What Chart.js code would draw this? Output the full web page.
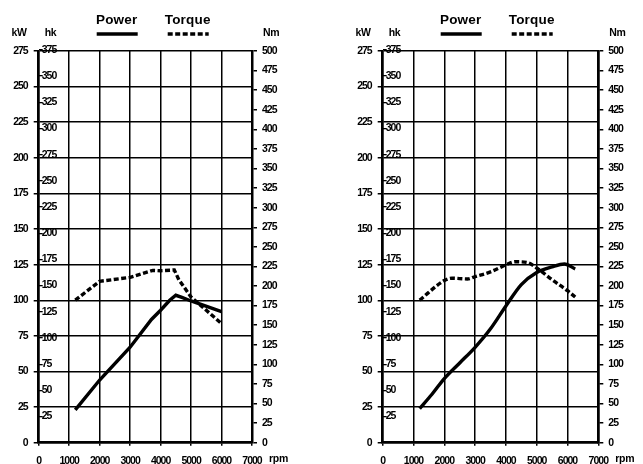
<!DOCTYPE html>
<html>
<head>
<meta charset="utf-8">
<script src="https://cdn.jsdelivr.net/npm/chart.js@4.4.0/dist/chart.umd.min.js"></script>
<style>
  html, body { margin: 0; padding: 0; background: #fff; }
  body { width: 643px; height: 464px; position: relative; overflow: hidden; }
  .panel { position: absolute; top: 0; }
  canvas { display: block; }
</style>
</head>
<body>
<div class="panel" style="left:0"><canvas id="left" width="322" height="464"></canvas></div>
<div class="panel" style="left:344px"><canvas id="right" width="299" height="464"></canvas></div>
<script>
// axis ticks
const rpmTicks = [0, 1000, 2000, 3000, 4000, 5000, 6000, 7000];
const kwTicks = [0, 25, 50, 75, 100, 125, 150, 175, 200, 225, 250, 275];
const hkTicks = [25, 50, 75, 100, 125, 150, 175, 200, 225, 250, 275, 300, 325, 350, 375];
const nmTicks = [0, 25, 50, 75, 100, 125, 150, 175, 200, 225, 250, 275, 300, 325, 350, 375, 400, 425, 450, 475, 500];
const HK_PER_KW = 1.36;

// left engine
const rpmPowerA = [1200, 2000, 3000, 3700, 4000, 4300, 4500, 4700, 5000, 6000];
const powerA = [23, 44, 67, 86.5, 93, 100, 103.5, 102, 99.5, 92];
const rpmTorqueA = [1200, 2000, 3000, 3750, 4000, 4450, 4600, 5000, 5500, 6000];
const torqueA = [182, 206, 211, 220, 219.5, 220.5, 208, 186, 169, 152];

// right engine
const rpmPowerB = [1200, 1600, 2000, 2500, 3000, 3500, 4000, 4500, 5000, 5500, 5900, 6250];
const powerB = [24, 34, 45, 56, 67, 80, 96, 111, 119.5, 123.5, 125.5, 122];
const rpmTorqueB = [1200, 2000, 2250, 2750, 3000, 3500, 4000, 4300, 4700, 5000, 5500, 6000, 6250];
const torqueB = [182, 207, 210, 209, 212, 218, 227, 231, 230, 223, 208, 194, 186];

const FONT = '"Liberation Sans", Arial, sans-serif';

function axisFont(size) {
    return { family: FONT, size: size, weight: 'bold' };
}

function useTicks(list) {
    return (scale) => { scale.ticks = list.map((v) => ({ value: v })); };
}

const labelsPlugin = {
    id: 'engineLabels',
    beforeDraw(chart) {
        // squeeze the digits a bit, the original uses a condensed face
        chart.ctx.letterSpacing = '-1px';
    },
    afterDraw(chart) {
        const ctx = chart.ctx;
        const a = chart.chartArea;
        ctx.save();
        ctx.fillStyle = '#000';
        ctx.strokeStyle = '#000';
        ctx.textBaseline = 'middle';
        ctx.font = 'bold 10.5px ' + FONT;
        ctx.letterSpacing = '-0.3px';
        ctx.textAlign = 'right';
        ctx.fillText('kW', a.left - 12, 33);
        ctx.textAlign = 'left';
        ctx.fillText('hk', a.left + 6, 33);
        ctx.fillText('Nm', a.right + 11, 33);
        ctx.fillText('rpm', a.right + 17, 459);

        // legend: name with a line sample underneath
        ctx.font = 'bold 13.5px ' + FONT;
        ctx.textAlign = 'center';
        ctx.letterSpacing = '0.2px';
        chart.data.datasets.forEach((ds, i) => {
            const cx = a.left + (i === 0 ? 78 : 149);
            ctx.fillText(ds.label, cx, 20);
            ctx.lineWidth = ds.borderWidth;
            ctx.setLineDash(ds.borderDash || []);
            ctx.beginPath();
            ctx.moveTo(cx - 20, 34);
            ctx.lineTo(cx + 21, 34);
            ctx.stroke();
        });
        ctx.restore();
    }
};

function makeChart(id, rpmP, kw, rpmT, nm, smooth, padRight) {
    const power = rpmP.map((x, i) => ({ x: x, y: kw[i] }));
    const torque = rpmT.map((x, i) => ({ x: x, y: nm[i] }));
    const lineStyle = {
        borderColor: '#000',
        borderWidth: 3.4,
        pointRadius: 0,
        fill: false,
        cubicInterpolationMode: smooth ? 'monotone' : 'default',
        tension: 0,
    };
    return new Chart(document.getElementById(id), {
        type: 'line',
        data: {
            datasets: [
                Object.assign({ label: 'Power', data: power, yAxisID: 'kw' }, lineStyle),
                Object.assign({ label: 'Torque', data: torque, yAxisID: 'nm', borderDash: [5, 2.5] }, lineStyle),
            ],
        },
        options: {
            responsive: false,
            animation: false,
            layout: { padding: { left: 0, top: 51, right: padRight, bottom: 0 } },
            plugins: { legend: { display: false }, tooltip: { enabled: false } },
            scales: {
                x: {
                    type: 'linear', min: 0, max: 7000,
                    afterBuildTicks: useTicks(rpmTicks),
                    afterFit: (s) => { s.height = 21.3; },
                    grid: { color: '#000', lineWidth: 1.5, tickLength: 3 },
                    border: { color: '#000', width: 2.5 },
                    ticks: { color: '#000', font: axisFont(10.5), padding: 9, maxRotation: 0, autoSkip: false, callback: (v) => String(v) },
                },
                kw: {
                    position: 'left', weight: 1, min: 0, max: 275,
                    afterBuildTicks: useTicks(kwTicks),
                    afterFit: (s) => { s.width = 38.7; },
                    grid: { color: '#000', lineWidth: 1.5, tickLength: 5 },
                    border: { color: '#000', width: 2.5 },
                    ticks: { color: '#000', font: axisFont(10.5), padding: 6, autoSkip: false, callback: (v) => String(v) },
                },
                hk: {
                    position: 'left', weight: 0, min: 0, max: 275 * HK_PER_KW,
                    afterBuildTicks: useTicks(hkTicks),
                    afterFit: (s) => { s.width = 0; },
                    grid: { drawOnChartArea: false, color: '#000', lineWidth: 1.3, tickLength: -4 },
                    border: { display: false },
                    ticks: { mirror: true, color: '#000', font: axisFont(10.5), padding: 3, autoSkip: false, callback: (v) => String(v) },
                },
                nm: {
                    position: 'right', min: 0, max: 500,
                    afterBuildTicks: useTicks(nmTicks),
                    afterFit: (s) => { s.width = 40; },
                    grid: { drawOnChartArea: false, color: '#000', lineWidth: 1.5, tickLength: 5 },
                    border: { color: '#000', width: 2.5 },
                    ticks: { color: '#000', font: axisFont(10.5), padding: 5, autoSkip: false, callback: (v) => String(v) },
                },
            },
        },
        plugins: [labelsPlugin],
    });
}

makeChart('left', rpmPowerA, powerA, rpmTorqueA, torqueA, false, 30);
makeChart('right', rpmPowerB, powerB, rpmTorqueB, torqueB, true, 4.7);
</script>
</body>
</html>
